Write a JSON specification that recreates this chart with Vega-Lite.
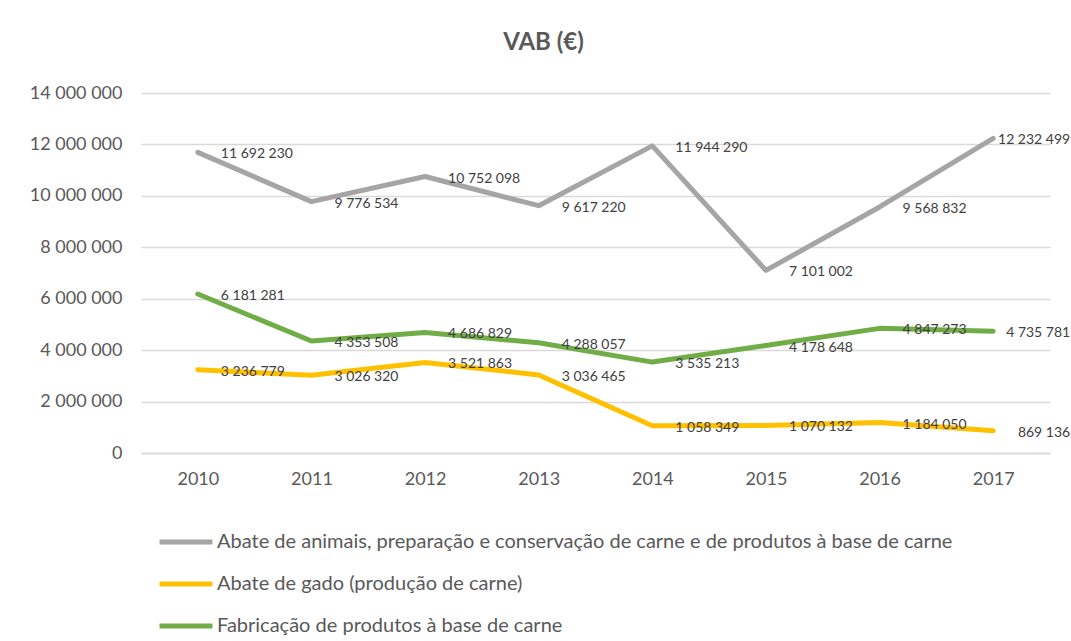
{
  "$schema": "https://vega.github.io/schema/vega-lite/v6.json",
  "width": 909,
  "height": 360,
  "autosize": {"type": "none"},
  "padding": {"left": 141, "top": 93, "right": 21, "bottom": 188},
  "background": "white",
  "title": {
    "text": "VAB (€)",
    "font": "Lato",
    "fontSize": 24,
    "fontWeight": "bold",
    "color": "#595959",
    "anchor": "middle",
    "dx": -52,
    "offset": 29
  },
  "config": {
    "locale": {"number": {"decimal": ",", "thousands": " ", "grouping": [3], "currency": ["", " €"]}},
    "view": {"stroke": null},
    "font": "Lato"
  },
  "data": {
    "values": [
      {"year": "2010", "series": "Abate de animais, preparação e conservação de carne e de produtos à base de carne", "value": 11692230},
      {"year": "2011", "series": "Abate de animais, preparação e conservação de carne e de produtos à base de carne", "value": 9776534},
      {"year": "2012", "series": "Abate de animais, preparação e conservação de carne e de produtos à base de carne", "value": 10752098},
      {"year": "2013", "series": "Abate de animais, preparação e conservação de carne e de produtos à base de carne", "value": 9617220},
      {"year": "2014", "series": "Abate de animais, preparação e conservação de carne e de produtos à base de carne", "value": 11944290},
      {"year": "2015", "series": "Abate de animais, preparação e conservação de carne e de produtos à base de carne", "value": 7101002},
      {"year": "2016", "series": "Abate de animais, preparação e conservação de carne e de produtos à base de carne", "value": 9568832},
      {"year": "2017", "series": "Abate de animais, preparação e conservação de carne e de produtos à base de carne", "value": 12232499},
      {"year": "2010", "series": "Abate de gado (produção de carne)", "value": 3236779},
      {"year": "2011", "series": "Abate de gado (produção de carne)", "value": 3026320},
      {"year": "2012", "series": "Abate de gado (produção de carne)", "value": 3521863},
      {"year": "2013", "series": "Abate de gado (produção de carne)", "value": 3036465},
      {"year": "2014", "series": "Abate de gado (produção de carne)", "value": 1058349},
      {"year": "2015", "series": "Abate de gado (produção de carne)", "value": 1070132},
      {"year": "2016", "series": "Abate de gado (produção de carne)", "value": 1184050},
      {"year": "2017", "series": "Abate de gado (produção de carne)", "value": 869136},
      {"year": "2010", "series": "Fabricação de produtos à base de carne", "value": 6181281},
      {"year": "2011", "series": "Fabricação de produtos à base de carne", "value": 4353508},
      {"year": "2012", "series": "Fabricação de produtos à base de carne", "value": 4686829},
      {"year": "2013", "series": "Fabricação de produtos à base de carne", "value": 4288057},
      {"year": "2014", "series": "Fabricação de produtos à base de carne", "value": 3535213},
      {"year": "2015", "series": "Fabricação de produtos à base de carne", "value": 4178648},
      {"year": "2016", "series": "Fabricação de produtos à base de carne", "value": 4847273},
      {"year": "2017", "series": "Fabricação de produtos à base de carne", "value": 4735781}
    ]
  },
  "encoding": {
    "x": {
      "field": "year",
      "type": "ordinal",
      "scale": {"type": "point", "padding": 0.5},
      "axis": {
        "title": null,
        "labelAngle": 0,
        "labelFontSize": 18,
        "labelColor": "#595959",
        "labelPadding": 17,
        "ticks": false,
        "domainColor": "#d9d9d9",
        "domainWidth": 1.5,
        "grid": false
      }
    },
    "y": {
      "field": "value",
      "type": "quantitative",
      "scale": {"domain": [0, 14000000], "nice": false},
      "axis": {
        "title": null,
        "values": [0, 2000000, 4000000, 6000000, 8000000, 10000000, 12000000, 14000000],
        "format": ",.0f",
        "labelFontSize": 18,
        "labelColor": "#595959",
        "labelPadding": 19,
        "ticks": false,
        "domain": false,
        "gridColor": "#d9d9d9",
        "gridWidth": 1.5
      }
    }
  },
  "layer": [
    {
      "mark": {"type": "line", "strokeWidth": 5, "strokeJoin": "round", "strokeCap": "round"},
      "encoding": {
        "color": {
          "field": "series",
          "type": "nominal",
          "scale": {
            "domain": [
              "Abate de animais, preparação e conservação de carne e de produtos à base de carne",
              "Abate de gado (produção de carne)",
              "Fabricação de produtos à base de carne"
            ],
            "range": ["#A5A5A5", "#FFC000", "#70AD47"]
          },
          "legend": {
            "title": null,
            "orient": "none",
            "legendX": 16,
            "legendY": 420,
            "direction": "vertical",
            "symbolType": "stroke",
            "symbolStrokeWidth": 5,
            "symbolSize": 2800,
            "labelFontSize": 20,
            "labelColor": "#595959",
            "labelLimit": 1000,
            "labelOffset": 2,
            "rowPadding": 3
          }
        }
      }
    },
    {
      "transform": [{"filter": "datum.year != '2017'"}],
      "mark": {"type": "text", "align": "left", "baseline": "middle", "dx": 23, "dy": 2, "fontSize": 14, "color": "#404040"},
      "encoding": {
        "text": {"field": "value", "type": "quantitative", "format": ","}
      }
    },
    {
      "transform": [{"filter": "datum.year == '2017'"}],
      "mark": {"type": "text", "align": "right", "baseline": "middle", "dx": 77, "dy": 2, "fontSize": 14, "color": "#404040"},
      "encoding": {
        "text": {"field": "value", "type": "quantitative", "format": ","}
      }
    }
  ]
}
